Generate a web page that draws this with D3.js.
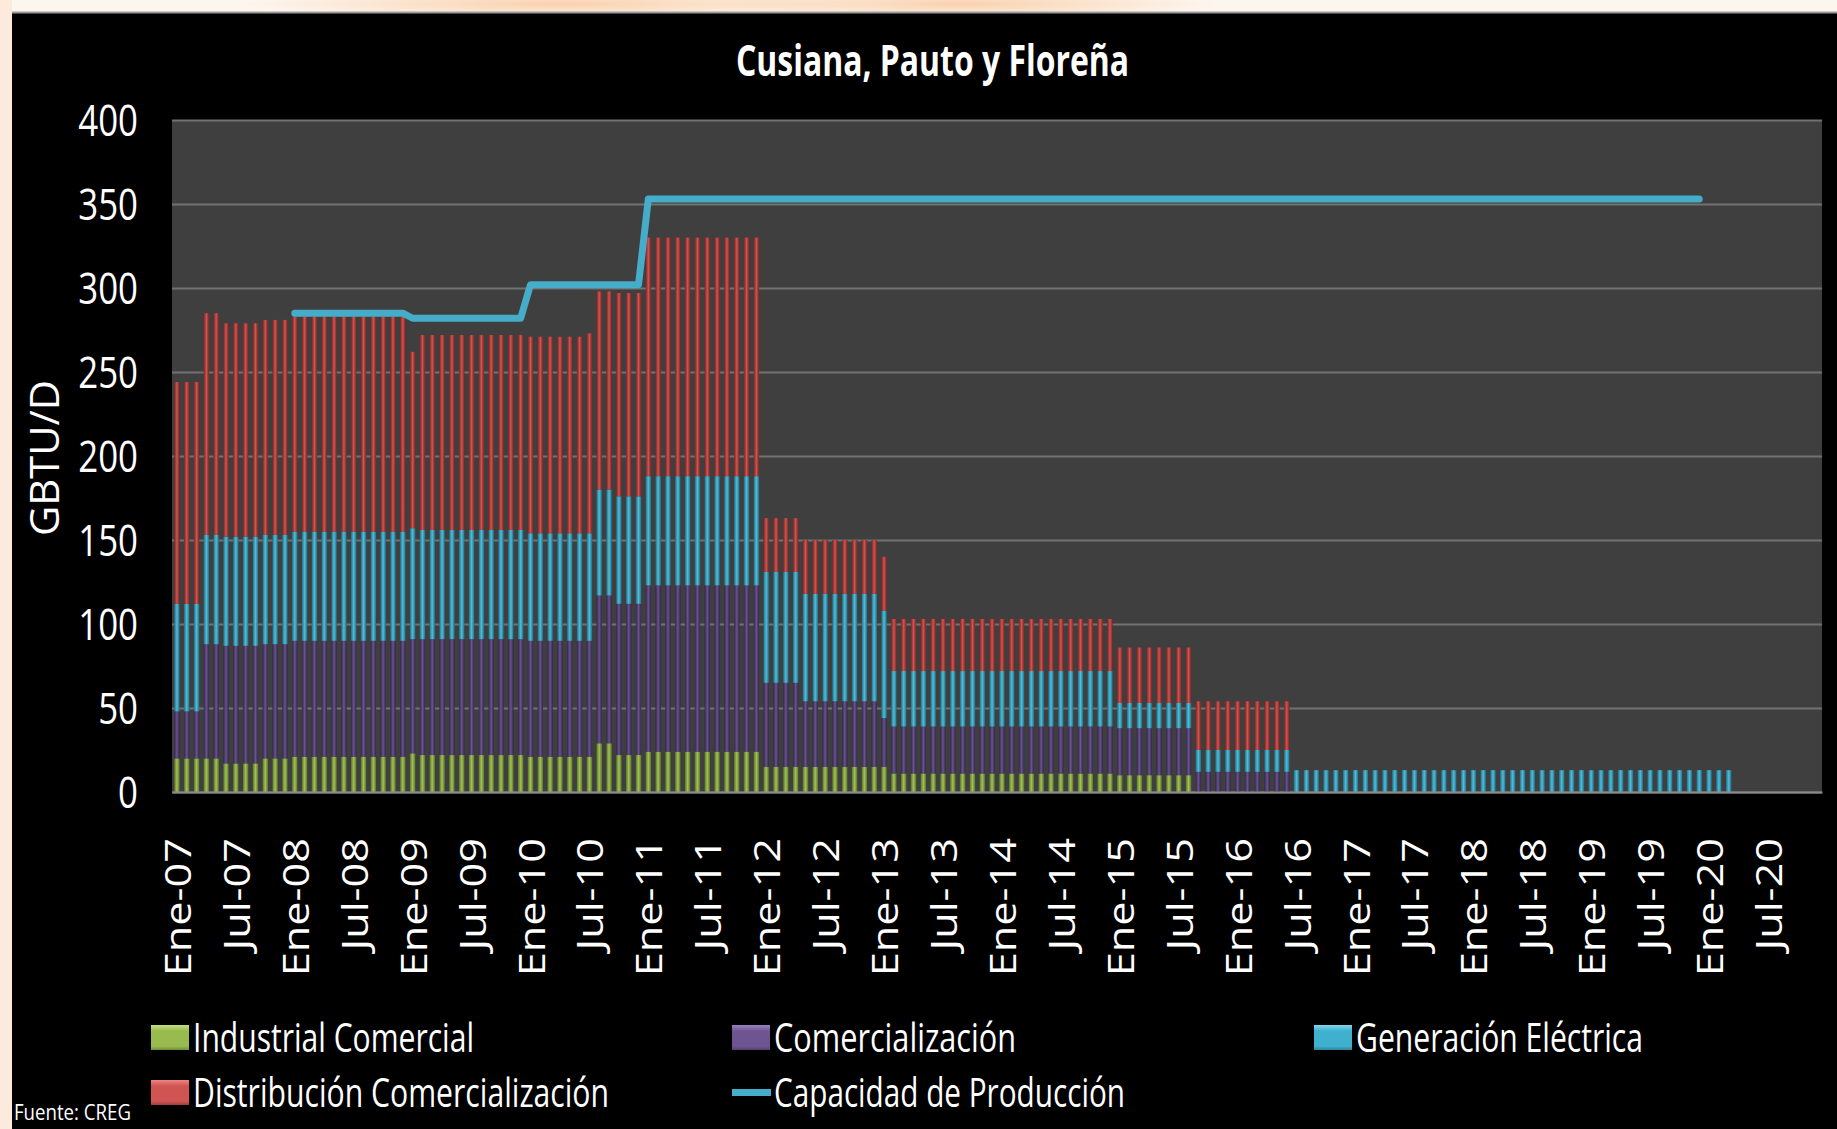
<!DOCTYPE html>
<html>
<head>
<meta charset="utf-8">
<script src="https://cdnjs.cloudflare.com/ajax/libs/d3/7.8.5/d3.min.js"></script>
<style>
    html, body { margin: 0; padding: 0; background: #fcebdc; }
    svg { display: block; }
    text { font-family: 'Open Sans', 'Noto Sans', sans-serif; fill: #ffffff; }
</style>
</head>
<body>
<svg id="chart" width="1837" height="1129"></svg>
<script>
// ---- data (GBTU/D, monthly, Ene-07 onwards) ----
var meses = ['Ene', 'Feb', 'Mar', 'Abr', 'May', 'Jun', 'Jul', 'Ago', 'Sep', 'Oct', 'Nov', 'Dic'];
var anios = ['07', '08', '09', '10', '11', '12', '13', '14', '15', '16', '17', '18', '19', '20'];

var industrialComercial = [
    20, 20, 20, 20, 20, 17, 17, 17, 17, 20, 20, 20,
    21, 21, 21, 21, 21, 21, 21, 21, 21, 21, 21, 21,
    23, 22, 22, 22, 22, 22, 22, 22, 22, 22, 22, 22,
    21, 21, 21, 21, 21, 21, 21, 29, 29, 22, 22, 22,
    24, 24, 24, 24, 24, 24, 24, 24, 24, 24, 24, 24,
    15, 15, 15, 15, 15, 15, 15, 15, 15, 15, 15, 15,
    15, 11, 11, 11, 11, 11, 11, 11, 11, 11, 11, 11,
    11, 11, 11, 11, 11, 11, 11, 11, 11, 11, 11, 11,
    10, 10, 10, 10, 10, 10, 10, 10, 0, 0, 0, 0,
    0, 0, 0, 0, 0, 0, 0, 0, 0, 0, 0, 0,
    0, 0, 0, 0, 0, 0, 0, 0, 0, 0, 0, 0,
    0, 0, 0, 0, 0, 0, 0, 0, 0, 0, 0, 0,
    0, 0, 0, 0, 0, 0, 0, 0, 0, 0, 0, 0,
    0, 0, 0
];

var comercializacion = [
    28, 28, 28, 68, 68, 70, 70, 70, 70, 68, 68, 68,
    69, 69, 69, 69, 69, 69, 69, 69, 69, 69, 69, 69,
    68, 69, 69, 69, 69, 69, 69, 69, 69, 69, 69, 69,
    69, 69, 69, 69, 69, 69, 69, 88, 88, 90, 90, 90,
    99, 99, 99, 99, 99, 99, 99, 99, 99, 99, 99, 99,
    50, 50, 50, 50, 39, 39, 39, 39, 39, 39, 39, 39,
    29, 28, 28, 28, 28, 28, 28, 28, 28, 28, 28, 28,
    28, 28, 28, 28, 28, 28, 28, 28, 28, 28, 28, 28,
    28, 28, 28, 28, 28, 28, 28, 28, 12, 12, 12, 12,
    12, 12, 12, 12, 12, 12, 0, 0, 0, 0, 0, 0,
    0, 0, 0, 0, 0, 0, 0, 0, 0, 0, 0, 0,
    0, 0, 0, 0, 0, 0, 0, 0, 0, 0, 0, 0,
    0, 0, 0, 0, 0, 0, 0, 0, 0, 0, 0, 0,
    0, 0, 0
];

var generacionElectrica = [
    64, 64, 64, 65, 65, 65, 65, 65, 65, 65, 65, 65,
    65, 65, 65, 65, 65, 65, 65, 65, 65, 65, 65, 65,
    66, 65, 65, 65, 65, 65, 65, 65, 65, 65, 65, 65,
    64, 64, 64, 64, 64, 64, 64, 63, 63, 64, 64, 64,
    65, 65, 65, 65, 65, 65, 65, 65, 65, 65, 65, 65,
    66, 66, 66, 66, 64, 64, 64, 64, 64, 64, 64, 64,
    64, 33, 33, 33, 33, 33, 33, 33, 33, 33, 33, 33,
    33, 33, 33, 33, 33, 33, 33, 33, 33, 33, 33, 33,
    15, 15, 15, 15, 15, 15, 15, 15, 13, 13, 13, 13,
    13, 13, 13, 13, 13, 13, 13, 13, 13, 13, 13, 13,
    13, 13, 13, 13, 13, 13, 13, 13, 13, 13, 13, 13,
    13, 13, 13, 13, 13, 13, 13, 13, 13, 13, 13, 13,
    13, 13, 13, 13, 13, 13, 13, 13, 13, 13, 13, 13,
    13, 13, 13
];

var distribucionComercializacion = [
    132, 132, 132, 132, 132, 127, 127, 127, 127, 128, 128, 128,
    128, 128, 128, 128, 128, 128, 128, 128, 128, 128, 128, 128,
    105, 116, 116, 116, 116, 116, 116, 116, 116, 116, 116, 116,
    117, 117, 117, 117, 117, 117, 119, 118, 118, 121, 121, 121,
    142, 142, 142, 142, 142, 142, 142, 142, 142, 142, 142, 142,
    32, 32, 32, 32, 32, 32, 32, 32, 32, 32, 32, 32,
    32, 31, 31, 31, 31, 31, 31, 31, 31, 31, 31, 31,
    31, 31, 31, 31, 31, 31, 31, 31, 31, 31, 31, 31,
    33, 33, 33, 33, 33, 33, 33, 33, 29, 29, 29, 29,
    29, 29, 29, 29, 29, 29, 0, 0, 0, 0, 0, 0,
    0, 0, 0, 0, 0, 0, 0, 0, 0, 0, 0, 0,
    0, 0, 0, 0, 0, 0, 0, 0, 0, 0, 0, 0,
    0, 0, 0, 0, 0, 0, 0, 0, 0, 0, 0, 0,
    0, 0, 0
];

var capacidadProduccion = [
    null, null, null, null, null, null, null, null, null, null, null, null,
    285, 285, 285, 285, 285, 285, 285, 285, 285, 285, 285, 285,
    282, 282, 282, 282, 282, 282, 282, 282, 282, 282, 282, 282,
    302, 302, 302, 302, 302, 302, 302, 302, 302, 302, 302, 302,
    353, 353, 353, 353, 353, 353, 353, 353, 353, 353, 353, 353,
    353, 353, 353, 353, 353, 353, 353, 353, 353, 353, 353, 353,
    353, 353, 353, 353, 353, 353, 353, 353, 353, 353, 353, 353,
    353, 353, 353, 353, 353, 353, 353, 353, 353, 353, 353, 353,
    353, 353, 353, 353, 353, 353, 353, 353, 353, 353, 353, 353,
    353, 353, 353, 353, 353, 353, 353, 353, 353, 353, 353, 353,
    353, 353, 353, 353, 353, 353, 353, 353, 353, 353, 353, 353,
    353, 353, 353, 353, 353, 353, 353, 353, 353, 353, 353, 353,
    353, 353, 353, 353, 353, 353, 353, 353, 353, 353, 353, 353
];

var yTicks = [0, 50, 100, 150, 200, 250, 300, 350, 400];
var seriesKeys = ['industrial', 'comercializacion', 'generacion', 'distribucion'];
var seriesNames = ['Industrial Comercial', 'Comercialización', 'Generación Eléctrica', 'Distribución Comercialización'];
var lineName = 'Capacidad de Producción';
var titulo = 'Cusiana, Pauto y Floreña';
var fuente = 'Fuente: CREG';

// categories and tick labels (every January and July)
var categorias = [];
anios.forEach(function (a) {
    meses.forEach(function (m) { categorias.push(m + '-' + a); });
});
var xTickLabels = categorias.filter(function (c) {
    return c.indexOf('Ene') === 0 || c.indexOf('Jul') === 0;
});

// ---- styles ----
var barColors = {
    industrial:       {edge: '#5a7429', base: '#84a341', light: '#a2c05a'},
    comercializacion: {edge: '#33264a', base: '#534073', light: '#68548d'},
    generacion:       {edge: '#206d86', base: '#399fbb', light: '#56bad4'},
    distribucion:     {edge: '#772523', base: '#af3e3b', light: '#c95956'}
};
var swatchColors = {
    industrial:       ['#c3e07e', '#98ba4f'],
    comercializacion: ['#9a80bd', '#6f5492'],
    generacion:       ['#7fd6ec', '#3fb0cd'],
    distribucion:     ['#f08583', '#cf5452']
};
var lineColor = '#45adc9';

var width = 1837,
    height = 1129,
    plot = {left: 172, right: 1822, top: 120, bottom: 792},
    plotW = plot.right - plot.left,
    plotH = plot.bottom - plot.top;

var svg = d3.select('#chart');
var defs = svg.append('defs');

// ---- page background: beige margin with a faint orange glow on top ----
var glow = defs.append('radialGradient').attr('id', 'glow');
glow.append('stop').attr('offset', '0%').attr('stop-color', '#f4a35c').attr('stop-opacity', 0.45);
glow.append('stop').attr('offset', '100%').attr('stop-color', '#f4a35c').attr('stop-opacity', 0);

svg.append('rect').attr('width', width).attr('height', height).attr('fill', '#fcebdc');
svg.append('rect').attr('x', 12).attr('width', width - 12).attr('height', 12).attr('fill', '#fdf6ef');
svg.append('ellipse').attr('cx', 560).attr('cy', 4).attr('rx', 320).attr('ry', 14).attr('fill', 'url(#glow)');
svg.append('ellipse').attr('cx', 960).attr('cy', 4).attr('rx', 260).attr('ry', 14).attr('fill', 'url(#glow)');
svg.append('rect').attr('x', 12).attr('y', 12).attr('width', width - 12).attr('height', height - 12).attr('fill', '#000');
svg.append('line').attr('x1', 12).attr('x2', width).attr('y1', 12.5).attr('y2', 12.5)
    .attr('stroke', '#9a9a9a').attr('stroke-width', 2);

// ---- gradients for bars (bevelled look) and legend swatches ----
seriesKeys.forEach(function (k) {
    var c = barColors[k],
        gr = defs.append('linearGradient').attr('id', 'bar-' + k)
            .attr('x1', 0).attr('x2', 1).attr('y1', 0).attr('y2', 0);
    [[0, c.edge], [0.3, c.base], [0.5, c.light], [0.7, c.base], [1, c.edge]].forEach(function (s) {
        gr.append('stop').attr('offset', s[0]).attr('stop-color', s[1]);
    });
    var sw = defs.append('linearGradient').attr('id', 'sw-' + k)
        .attr('x1', 0).attr('x2', 0).attr('y1', 0).attr('y2', 1);
    sw.append('stop').attr('offset', 0).attr('stop-color', swatchColors[k][0]);
    sw.append('stop').attr('offset', 0.25).attr('stop-color', swatchColors[k][1]);
    sw.append('stop').attr('offset', 0.85).attr('stop-color', swatchColors[k][1]);
    sw.append('stop').attr('offset', 1).attr('stop-color', d3.color(swatchColors[k][1]).darker(0.8));
});

// ---- scales ----
var x = d3.scaleBand()
    .domain(categorias)
    .range([0, plotW])
    .paddingInner(0.45)
    .paddingOuter(0.225);

var y = d3.scaleLinear()
    .domain([0, 400])
    .range([plotH, 0]);

var g = svg.append('g')
    .attr('transform', 'translate(' + plot.left + ',' + plot.top + ')');

g.append('rect').attr('width', plotW).attr('height', plotH).attr('fill', '#3f3f3f');

// horizontal gridlines
g.append('g')
    .call(d3.axisLeft(y).tickValues(yTicks).tickSize(-plotW).tickFormat(''))
    .call(function (s) {
        s.select('.domain').remove();
        s.selectAll('line').attr('stroke', '#727272').attr('stroke-width', 2);
    });

// ---- stacked bars ----
var tabla = categorias.map(function (c, i) {
    return {
        mes: c,
        industrial: industrialComercial[i] || 0,
        comercializacion: comercializacion[i] || 0,
        generacion: generacionElectrica[i] || 0,
        distribucion: distribucionComercializacion[i] || 0
    };
});

var stacked = d3.stack().keys(seriesKeys)(tabla);

g.selectAll('g.layer')
    .data(stacked)
    .enter().append('g')
    .attr('class', 'layer')
    .attr('fill', function (d) { return 'url(#bar-' + d.key + ')'; })
    .selectAll('rect')
    .data(function (d) { return d.filter(function (p) { return p[1] - p[0] > 0; }); })
    .enter().append('rect')
    .attr('x', function (d) { return x(d.data.mes); })
    .attr('width', x.bandwidth())
    .attr('y', function (d) { return y(d[1]); })
    .attr('height', function (d) { return y(d[0]) - y(d[1]); });

// ---- production capacity line ----
var linea = d3.line()
    .defined(function (d) { return d.v !== null && d.v !== undefined; })
    .x(function (d) { return x(d.mes) + x.bandwidth() / 2; })
    .y(function (d) { return y(d.v); });

g.append('path')
    .datum(categorias.map(function (c, i) { return {mes: c, v: capacidadProduccion[i]}; }))
    .attr('d', linea)
    .attr('fill', 'none')
    .attr('stroke', lineColor)
    .attr('stroke-width', 7)
    .attr('stroke-linejoin', 'round')
    .attr('stroke-linecap', 'round');

// ---- axes labels ----
var yScaleX = 0.81;
g.append('g')
    .call(d3.axisLeft(y).tickValues(yTicks).tickSize(0))
    .call(function (s) {
        s.select('.domain').remove();
        s.attr('font-family', null).attr('font-size', null);
        s.selectAll('text')
            .attr('x', -34 / yScaleX)
            .attr('dy', '0.36em')
            .attr('fill', '#fff')
            .style('font-size', '43px')
            .attr('transform', 'scale(' + yScaleX + ',1)');
    });

var xStretch = 1.17;
g.append('g')
    .attr('transform', 'translate(0,' + plotH + ')')
    .call(d3.axisBottom(x).tickValues(xTickLabels).tickSize(0))
    .call(function (s) {
        s.select('.domain').attr('stroke', '#8a8a8a').attr('stroke-width', 2);
        s.attr('font-family', null).attr('font-size', null);
        s.selectAll('text')
            .attr('text-anchor', 'end')
            .attr('x', -46 / xStretch)
            .attr('y', 0)
            .attr('dy', '0.38em')
            .attr('fill', '#fff')
            .style('font-size', '37px')
            .attr('transform', 'rotate(-90) scale(' + xStretch + ',1)');
    });

// y axis title
svg.append('text')
    .attr('transform', 'translate(59,458) rotate(-90)')
    .attr('x', -78)
    .attr('textLength', 156)
    .attr('lengthAdjust', 'spacingAndGlyphs')
    .style('font-size', '40px')
    .text('GBTU/D');

// chart title
svg.append('text')
    .attr('x', 736)
    .attr('y', 76)
    .attr('textLength', 393)
    .attr('lengthAdjust', 'spacingAndGlyphs')
    .style('font-size', '43px')
    .style('font-weight', 'bold')
    .text(titulo);

// ---- legend ----
var legendItems = [
    {key: 'industrial', name: seriesNames[0], x: 151, y: 1025, w: 281},
    {key: 'comercializacion', name: seriesNames[1], x: 732, y: 1025, w: 242},
    {key: 'generacion', name: seriesNames[2], x: 1314, y: 1025, w: 287},
    {key: 'distribucion', name: seriesNames[3], x: 151, y: 1080, w: 416},
    {key: 'linea', name: lineName, x: 732, y: 1080, w: 351}
];

var legend = svg.append('g');
legendItems.forEach(function (it) {
    if (it.key === 'linea') {
        legend.append('line')
            .attr('x1', it.x).attr('x2', it.x + 39)
            .attr('y1', it.y + 12.5).attr('y2', it.y + 12.5)
            .attr('stroke', lineColor).attr('stroke-width', 7);
    } else {
        legend.append('rect')
            .attr('x', it.x).attr('y', it.y)
            .attr('width', 38).attr('height', 25)
            .attr('fill', 'url(#sw-' + it.key + ')');
    }
    legend.append('text')
        .attr('x', it.x + 42)
        .attr('y', it.y + 27)
        .attr('textLength', it.w)
        .attr('lengthAdjust', 'spacingAndGlyphs')
        .style('font-size', '40px')
        .text(it.name);
});

// source note
svg.append('text')
    .attr('x', 14)
    .attr('y', 1120)
    .attr('textLength', 117)
    .attr('lengthAdjust', 'spacingAndGlyphs')
    .style('font-size', '21px')
    .text(fuente);
</script>
</body>
</html>
